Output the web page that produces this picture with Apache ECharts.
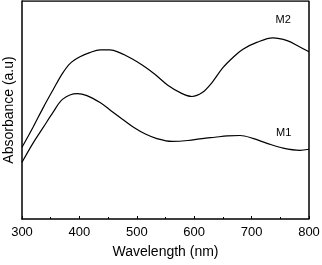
<!DOCTYPE html>
<html><head><meta charset="utf-8">
<script src="https://cdn.jsdelivr.net/npm/echarts@6/dist/echarts.min.js"></script>
<style>html,body{margin:0;padding:0;background:#fff}#c{width:322px;height:265px}</style>
</head><body><div id="c"></div>
<script>
const xTicks = [300, 400, 500, 600, 700, 800];
const m2Wave = [300, 319, 337, 354, 370, 384, 401, 418, 436, 453, 471, 490, 510, 532, 554, 579, 596, 614, 631, 650, 668, 685, 709, 737, 762, 784, 800];
const m2Abs  = [0.329, 0.420, 0.511, 0.592, 0.666, 0.714, 0.744, 0.763, 0.776, 0.776, 0.762, 0.737, 0.705, 0.663, 0.614, 0.575, 0.562, 0.580, 0.626, 0.694, 0.742, 0.779, 0.810, 0.831, 0.818, 0.789, 0.767];
const m1Wave = [300, 319, 337, 354, 371, 396, 413, 436, 455, 475, 495, 515, 535, 561, 589, 614, 636, 658, 680, 702, 727, 755, 784, 800];
const m1Abs  = [0.260, 0.347, 0.420, 0.489, 0.550, 0.575, 0.566, 0.534, 0.497, 0.458, 0.420, 0.390, 0.369, 0.356, 0.360, 0.369, 0.375, 0.381, 0.383, 0.370, 0.347, 0.325, 0.315, 0.320];
const seriesNames = ['M2', 'M1'];
const labelPos = [[755, 0.913], [756, 0.393]];

const chart = echarts.init(document.getElementById('c'));
const font = 'Liberation Sans, Arial, sans-serif';
chart.setOption({
  animation: false,
  backgroundColor: '#fff',
  grid: {left: 22, right: 13, top: 1, bottom: 46, outerBoundsMode: 'none', containLabel: false},
  xAxis: {
    type: 'value', min: 300, max: 800, interval: 100,
    name: 'Wavelength (nm)', nameLocation: 'middle', nameGap: 26,
    nameTextStyle: {fontFamily: font, fontSize: 14, color: '#000'},
    axisLine: {show: true, lineStyle: {color: '#000', width: 1.5}},
    axisTick: {show: true, inside: true, length: 3, lineStyle: {color: '#000', width: 1}},
    minorTick: {show: true, splitNumber: 2, length: 2, lineStyle: {color: '#000', width: 1}},
    axisLabel: {fontFamily: font, fontSize: 13, color: '#000', margin: 7,
      formatter: v => xTicks.includes(v) ? String(v) : ''},
    splitLine: {show: false}
  },
  yAxis: {
    type: 'value', min: 0, max: 1,
    name: 'Absorbance (a.u)', nameLocation: 'middle', nameGap: 6,
    nameTextStyle: {fontFamily: font, fontSize: 14, color: '#000'},
    axisLine: {show: true, lineStyle: {color: '#000', width: 1.5}},
    axisTick: {show: false}, axisLabel: {show: false}, splitLine: {show: false}
  },
  series: [
    {name: seriesNames[0], type: 'line', smooth: 0.35, symbol: 'none',
     lineStyle: {color: '#000', width: 1.2},
     data: m2Wave.map((w, i) => [w, m2Abs[i]]),
     markPoint: {symbol: 'rect', symbolSize: 0, data: [{coord: labelPos[0], value: seriesNames[0]}],
       label: {show: true, formatter: seriesNames[0], color: '#000', fontFamily: font, fontSize: 11}}},
    {name: seriesNames[1], type: 'line', smooth: 0.35, symbol: 'none',
     lineStyle: {color: '#000', width: 1.2},
     data: m1Wave.map((w, i) => [w, m1Abs[i]]),
     markPoint: {symbol: 'rect', symbolSize: 0, data: [{coord: labelPos[1], value: seriesNames[1]}],
       label: {show: true, formatter: seriesNames[1], color: '#000', fontFamily: font, fontSize: 11}}},
    {type: 'line', symbol: 'none', silent: true, lineStyle: {color: '#000', width: 1.5},
     data: [[300, 1], [800, 1], [800, 0]]}
  ]
});
</script></body></html>
